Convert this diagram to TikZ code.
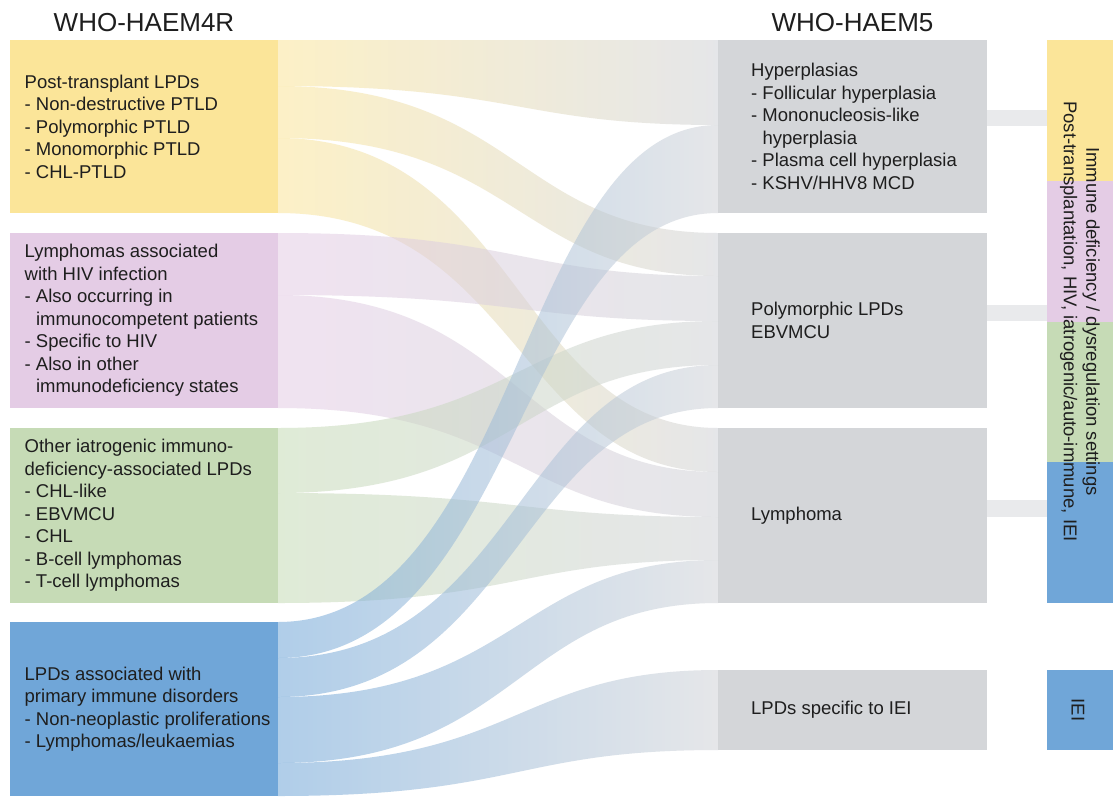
\documentclass[tikz,border=0pt]{standalone}
\usepackage{fontspec}
\setmainfont{Liberation Sans}
\usetikzlibrary{calc}
\definecolor{cyel}{RGB}{251,229,153}
\definecolor{cpur}{RGB}{228,204,229}
\definecolor{cgre}{RGB}{198,219,182}
\definecolor{cblu}{RGB}{112,166,216}
\definecolor{cgry}{RGB}{212,214,217}
\definecolor{cconn}{RGB}{233,234,236}
\definecolor{cflowend}{RGB}{209,211,215}
\definecolor{ctxt}{RGB}{30,30,30}
\newcommand\flowband[7]{%
  \shade[band, left color=#7, right color=cflowend]
    ($(#1.north east)+(0,#2)$) .. controls +(240,0) and +(-200,0) .. ($(#4.north west)+(0,#5)$)
    -- ($(#4.north west)+(0,#6)$) .. controls +(-200,0) and +(240,0) .. ($(#1.north east)+(0,#3)$) -- cycle;}
\begin{document}
\begin{tikzpicture}[x=1pt,y=-1pt,
  box/.style={rectangle, draw=none, inner sep=0pt, outer sep=0pt},
  lbox/.style={box, minimum width=268pt},
  mbox/.style={box, minimum width=269pt, fill=cgry},
  rbox/.style={box, minimum width=66pt},
  txt/.style={inner sep=0pt, align=left, anchor=west, text=ctxt, font=\fontsize{18.5}{22.5}\selectfont},
  rtxt/.style={inner sep=0pt, align=center, text=ctxt, rotate=-90, font=\fontsize{18.5}{22.5}\selectfont},
  ttl/.style={inner sep=0pt, anchor=base, text=ctxt, font=\fontsize{26}{30}\selectfont},
  band/.style={fill opacity=0.55, draw=none},
  conn/.style={fill=cconn, draw=none}]
\fill[white] (0,0) rectangle (1113,796);
\useasboundingbox (0,0) rectangle (1113,796);

% titles
\node[ttl] (t4) at (144,31.5) {WHO-HAEM4R};
\node[ttl] (t5) at (852.5,31.5) {WHO-HAEM5};

% left boxes
\node[lbox, fill=cyel, minimum height=173pt] (yel) at (144,126.5) {};
\node[lbox, fill=cpur, minimum height=175pt] (pur) at (144,320.5) {};
\node[lbox, fill=cgre, minimum height=175pt] (gre) at (144,515.5) {};
\node[lbox, fill=cblu, minimum height=174pt] (blu) at (144,709) {};

% middle boxes
\node[mbox, minimum height=173pt] (hyp) at (852.5,126.5) {};
\node[mbox, minimum height=175pt] (pol) at (852.5,320.5) {};
\node[mbox, minimum height=175pt] (lym) at (852.5,515.5) {};
\node[mbox, minimum height=80pt] (iei) at (852.5,710) {};

% right column
\node[rbox, fill=cyel, minimum height=140.75pt] (ry) at (1080,110.375) {};
\node[rbox, fill=cpur, minimum height=140.75pt] (rp) at (1080,251.125) {};
\node[rbox, fill=cgre, minimum height=140.75pt] (rg) at (1080,391.875) {};
\node[rbox, fill=cblu, minimum height=140.75pt] (rb) at (1080,532.625) {};
\node[rbox, fill=cblu, minimum height=80pt] (riei) at (1080,710) {};

% flows
\flowband{yel}{0}{46}{hyp}{0}{85}{cyel}
\flowband{yel}{46}{98}{pol}{0}{43}{cyel}
\flowband{yel}{98}{173}{lym}{0}{44}{cyel}
\flowband{pur}{0}{62}{pol}{43}{88}{cpur}
\flowband{pur}{62}{175}{lym}{44}{89}{cpur}
\flowband{gre}{0}{65}{pol}{88}{132}{cgre}
\flowband{gre}{65}{175}{lym}{89}{132}{cgre}
\flowband{blu}{0}{36}{hyp}{85}{173}{cblu}
\flowband{blu}{36}{75}{pol}{132}{175}{cblu}
\flowband{blu}{75}{141}{lym}{132}{175}{cblu}
\flowband{blu}{141}{174}{iei}{0}{80}{cblu}

% connectors to the settings column
\fill[conn] ($(hyp.north east)+(0,70)$) rectangle ($(hyp.north east)+(60,86)$);
\fill[conn] ($(pol.north east)+(0,72)$) rectangle ($(pol.north east)+(60,88)$);
\fill[conn] ($(lym.north east)+(0,72)$) rectangle ($(lym.north east)+(60,89)$);

% texts, left
\node[txt] (yelt) at ($(yel.west)+(14.5,0)$) {Post-transplant LPDs\\- Non-destructive PTLD\\- Polymorphic PTLD\\- Monomorphic PTLD\\- CHL-PTLD};
\node[txt] (purt) at ($(pur.west)+(14.5,0)$) {Lymphomas associated\\with HIV infection\\- Also occurring in\\\phantom{- }immunocompetent patients\\- Specific to HIV\\- Also in other\\\phantom{- }immunodeficiency states};
\node[txt] (gret) at ($(gre.west)+(14.5,0)$) {Other iatrogenic immuno-\\deficiency-associated LPDs\\- CHL-like\\- EBVMCU\\- CHL\\- B-cell lymphomas\\- T-cell lymphomas};
\node[txt] (blut) at ($(blu.west)+(14.5,0)$) {LPDs associated with\\primary immune disorders\\- Non-neoplastic proliferations\\- Lymphomas/leukaemias};

% texts, middle
\node[txt] (hypt) at ($(hyp.west)+(33,0)$) {Hyperplasias\\- Follicular hyperplasia\\- Mononucleosis-like\\\phantom{- }hyperplasia\\- Plasma cell hyperplasia\\- KSHV/HHV8 MCD};
\node[txt] (polt) at ($(pol.west)+(33,0)$) {Polymorphic LPDs\\EBVMCU};
\node[txt] (lymt) at ($(lym.west)+(33,0)$) {Lymphoma};
\node[txt] (ieit) at ($(iei.west)+(33,0)$) {LPDs specific to IEI};

% texts, right
\node[rtxt] (rset) at (1080,321.5) {Immune deficiency / dysregulation settings\\Post-transplantation, HIV, iatrogenic/auto-immune, IEI};
\node[rtxt] (rieit) at (1078,710) {IEI};
\end{tikzpicture}
\end{document}
